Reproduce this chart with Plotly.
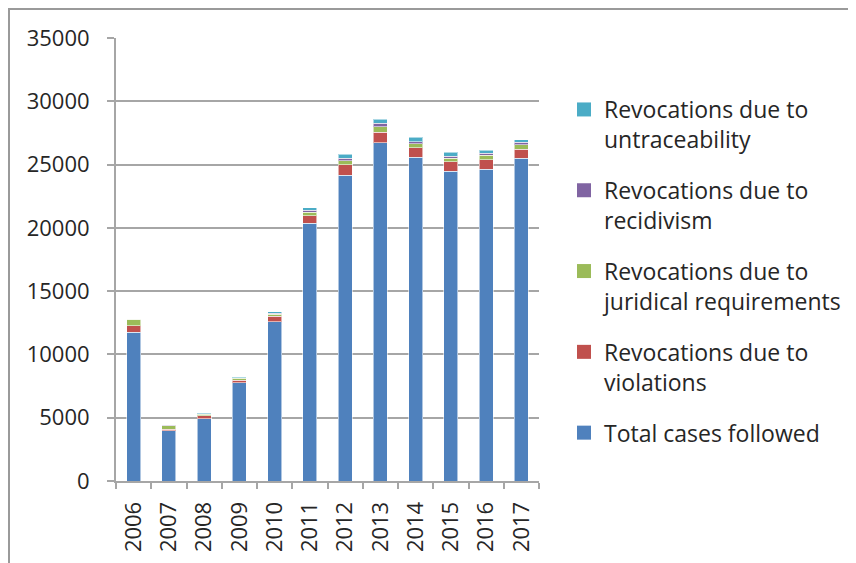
import plotly.graph_objects as go

years = ["2006", "2007", "2008", "2009", "2010", "2011", "2012", "2013", "2014", "2015", "2016", "2017"]
total_cases = [11750, 3970, 4900, 7750, 12590, 20360, 24150, 26730, 25570, 24490, 24630, 25490]
violations = [530, 130, 260, 220, 420, 600, 840, 820, 740, 740, 760, 710]
juridical = [480, 280, 130, 130, 180, 290, 320, 420, 340, 260, 340, 370]
recidivism = [20, 20, 30, 60, 60, 160, 180, 290, 160, 180, 180, 180]
untraceability = [40, 40, 60, 70, 120, 160, 320, 340, 340, 290, 240, 210]

series = [
    ("Total cases followed", total_cases, "#4F81BD"),
    ("Revocations due to<br>violations", violations, "#C0504D"),
    ("Revocations due to<br>juridical requirements", juridical, "#9BBB59"),
    ("Revocations due to<br>recidivism", recidivism, "#8064A2"),
    ("Revocations due to<br>untraceability", untraceability, "#4BACC6"),
]

FONT = "Open Sans"
TXT = "#262626"
GRID = "#A6A6A6"

W, H = 848, 555
L, R, T, B = 108, 317, 30, 82
PW, PH = W - L - R, H - T - B

fig = go.Figure()
n = len(series)
for i, (name, vals, col) in enumerate(series):
    fig.add_trace(go.Bar(
        x=years, y=vals, name=name, legendgroup=f"g{i}", showlegend=False,
        marker=dict(color=col, line=dict(color="rgba(255,255,255,0.55)", width=1)),
    ))
# legend entries (larger square swatches)
for i, (name, vals, col) in enumerate(series):
    fig.add_trace(go.Scatter(
        x=[None], y=[None], mode="markers", name=name,
        legendgroup=f"g{i}", legendrank=100 * (n - i), showlegend=True,
        marker=dict(symbol="square", size=14, color=col),
        hoverinfo="skip",
    ))

fig.update_layout(
    width=W, height=H,
    barmode="stack", bargap=0.6,
    paper_bgcolor="white", plot_bgcolor="white",
    margin=dict(l=L, r=R, t=T, b=B, autoexpand=False),
    font=dict(family=FONT, size=22, color=TXT),
    showlegend=True,
    legend=dict(
        x=(556 - L) / PW, xanchor="left", y=(H - B - 80) / PH, yanchor="top",
        traceorder="grouped", tracegroupgap=18, valign="top", itemsizing="trace",
        font=dict(family=FONT, size=23, color=TXT),
        bgcolor="rgba(0,0,0,0)",
    ),
    xaxis=dict(
        type="category", tickangle=-90, categoryorder="array", categoryarray=years,
        showline=True, linecolor=GRID, linewidth=2,
        ticks="outside", ticklen=6, tickcolor=GRID, tickwidth=1.5,
        tickson="boundaries", showgrid=False, ticklabelstandoff=10,
        tickfont=dict(family=FONT, size=22, color=TXT),
    ),
    yaxis=dict(
        range=[0, 35000], dtick=5000, tickmode="linear", tickformat="d",
        showline=True, linecolor=GRID, linewidth=2,
        ticks="outside", ticklen=7, tickcolor=GRID, tickwidth=1.5,
        showgrid=True, gridcolor=GRID, gridwidth=2,
        zeroline=False, ticklabelstandoff=13,
        tickfont=dict(family=FONT, size=22, color=TXT),
    ),
    shapes=[dict(
        type="rect", xref="paper", yref="paper",
        x0=(1 - L) / PW, x1=2.5, y0=-0.5, y1=(H - B - 1) / PH,
        line=dict(color="#9A9A9A", width=2), fillcolor="rgba(0,0,0,0)", layer="below",
    )],
)

fig.write_html("out.html")
